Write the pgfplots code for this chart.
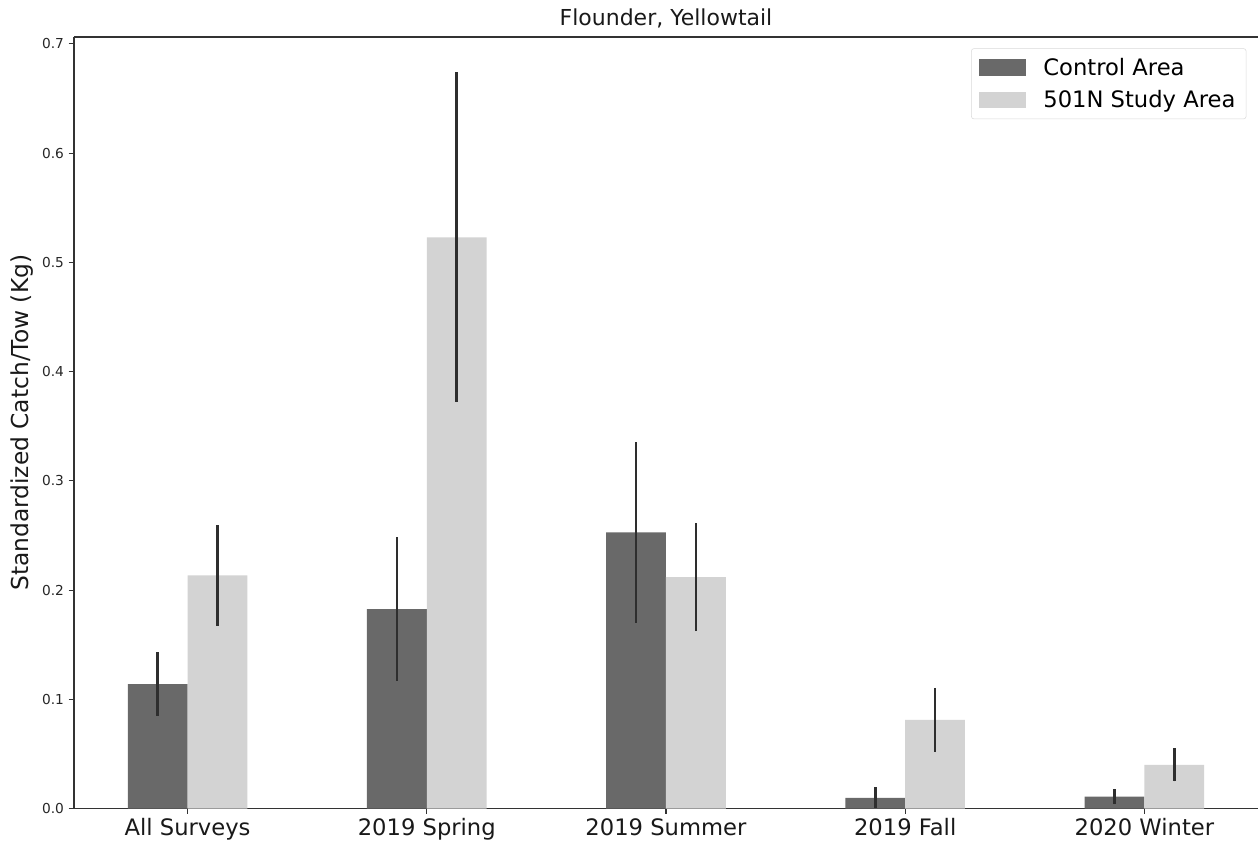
\documentclass[border=0pt]{standalone}
\usepackage{pgfplots}
\pgfplotsset{compat=1.18}
\usepackage{fontspec}
\setmainfont{DejaVu Sans}
\definecolor{ctrl}{RGB}{105,105,105}
\definecolor{study}{RGB}{211,211,211}
\definecolor{spine}{RGB}{51,51,51}
\begin{document}
\begin{tikzpicture}
\begin{axis}[
  scale only axis,
  width=888.5pt, height=579pt,
  xmin=-0.475, xmax=4.475,
  ymin=0, ymax=0.7064,
  axis x line*=bottom, axis y line*=left,
  axis line style={color=spine, line width=0.9pt},
  xtick={0,1,2,3,4},
  xticklabels={All Surveys,2019 Spring,2019 Summer,2019 Fall,2020 Winter},
  ytick={0,0.1,0.2,0.3,0.4,0.5,0.6,0.7},
  yticklabel style={/pgf/number format/fixed, /pgf/number format/fixed zerofill, /pgf/number format/precision=1, font=\fontsize{10.3}{12}\selectfont, color=black!85},
  /pgf/number format/assume math mode=true,
  xticklabel style={font=\fontsize{17}{20}\selectfont, color=black!90},
  tick align=outside,
  major tick length=4pt,
  tick style={color=spine, line width=0.8pt},
  ylabel={Standardized Catch/Tow (Kg)},
  ylabel style={font=\fontsize{17.5}{20}\selectfont, color=black!90},
  title={Flounder, Yellowtail},
  title style={font=\fontsize{16.5}{20}\selectfont, color=black!90, yshift=-3pt},
  legend cell align=left,
  legend style={at={(axis description cs:1,1)}, anchor=north east, xshift=-8.7pt, yshift=-8.5pt,
    draw=black!15, rounded corners=2pt, font=\fontsize{17}{20}\selectfont,
    inner xsep=6pt, inner ysep=5pt, row sep=6pt},
  legend image code/.code={\fill[#1, sharp corners] (0pt,-6.25pt) rectangle (35pt,6.25pt); \path (46pt,0pt);},
  clip=false,
]
\addplot[ybar, bar width=0.25, bar shift=0pt, fill=ctrl, draw=none,
  error bars/.cd, y dir=both, y explicit, error bar style={line width=2pt, color=black!82}, error mark=none]
  table[x=x, y=y, y error=e] {
x y e
-0.125 0.1140 0.0290
0.875 0.1827 0.0656
1.875 0.2528 0.0825
2.875 0.0098 0.0095
3.875 0.0110 0.0070
};
\addlegendentry{Control Area}
\addplot[ybar, bar width=0.25, bar shift=0pt, fill=study, draw=none,
  error bars/.cd, y dir=both, y explicit, error bar style={line width=2pt, color=black!82}, error mark=none]
  table[x=x, y=y, y error=e] {
x y e
0.125 0.2135 0.0460
1.125 0.5230 0.1510
2.125 0.2120 0.0495
3.125 0.0811 0.0295
4.125 0.0400 0.0150
};
\addlegendentry{501N Study Area}
\draw[spine, line width=0.9pt] (rel axis cs:0,1) -- (rel axis cs:1,1);
\coordinate (bl) at (rel axis cs:0,0);
\coordinate (tr) at (rel axis cs:1,1);
\end{axis}
\pgfresetboundingbox
\path ([xshift=-55.5pt,yshift=-27.75pt]bl) rectangle ([yshift=27.75pt]tr);
\end{tikzpicture}
\end{document}
